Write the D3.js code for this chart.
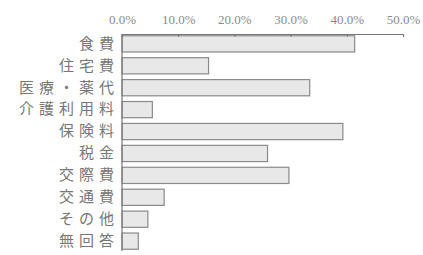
<!DOCTYPE html>
<html>
<head>
<meta charset="utf-8">
<script src="https://cdn.jsdelivr.net/npm/d3@7"></script>
<style>
  body { margin: 0; background: #fff; }
  svg { display: block; }
</style>
</head>
<body>
<div id="chart"></div>
<script>
const categories = ["食費", "住宅費", "医療・薬代", "介護利用料", "保険料", "税金", "交際費", "交通費", "その他", "無回答"];
const values = [41.4, 15.4, 33.4, 5.4, 39.3, 25.9, 29.7, 7.5, 4.6, 2.9];
const tickValues = [0, 10, 20, 30, 40, 50];

const width = 423, height = 255;
const margin = {top: 34, right: 20, bottom: 5, left: 122};

const svg = d3.select("#chart")
    .append("svg")
    .attr("width", width)
    .attr("height", height);

const x = d3.scaleLinear()
    .domain([0, 50])
    .range([margin.left, 403]);

const y = d3.scaleBand()
    .domain(categories)
    .range([margin.top, 251])
    .paddingInner(0.26)
    .paddingOuter(0.08);

// bars
svg.selectAll("rect.bar")
    .data(values)
    .enter()
    .append("rect")
    .attr("class", "bar")
    .attr("x", x(0))
    .attr("y", (d, i) => y(categories[i]))
    .attr("width", d => x(d) - x(0))
    .attr("height", y.bandwidth())
    .style("fill", "#e8e8e8")
    .style("stroke", "#8a8a8a")
    .style("stroke-width", 1.2);

// top axis
const xAxis = d3.axisTop(x)
    .tickValues(tickValues)
    .tickSize(-3)
    .tickPadding(10)
    .tickFormat(d => d.toFixed(1) + "%");

const gx = svg.append("g")
    .attr("transform", `translate(0,${margin.top})`)
    .call(xAxis);

gx.select(".domain").attr("stroke", "#777").attr("stroke-width", 1.2);
gx.selectAll(".tick line").attr("stroke", "#777");
gx.selectAll(".tick text")
    .attr("fill", "#8a8a8a")
    .style("font-family", "'Liberation Serif', 'DejaVu Serif', serif")
    .style("font-size", "13px");

// left axis
const yAxis = d3.axisLeft(y)
    .tickSize(0)
    .tickPadding(3);

const gy = svg.append("g")
    .attr("transform", `translate(${margin.left},0)`)
    .call(yAxis);

gy.select(".domain")
    .attr("d", `M0,${margin.top}V251`)
    .attr("stroke", "#777")
    .attr("stroke-width", 1.2);
gy.selectAll(".tick text")
    .attr("fill", "#777")
    .style("font-family", "'Noto Sans CJK JP', sans-serif")
    .style("font-size", "15px")
    .style("letter-spacing", "5px");
</script>
</body>
</html>
